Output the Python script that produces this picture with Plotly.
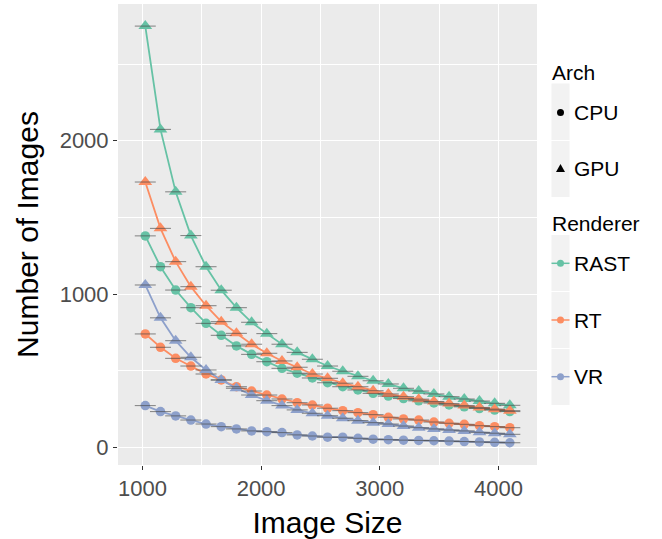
import plotly.graph_objects as go

# ---------------- data ----------------
sizes = [1024, 1152, 1280, 1408, 1536, 1664, 1792, 1920, 2048, 2176, 2304, 2432, 2560,
         2688, 2816, 2944, 3072, 3200, 3328, 3456, 3584, 3712, 3840, 3968, 4096]

gpu_rast = [2747, 2074, 1667, 1382, 1179, 1026, 912, 817, 743, 674, 621, 576, 532,
            498, 465, 436, 415, 387, 369, 350, 332, 317, 304, 289, 276]
cpu_rast = [1380, 1179, 1027, 912, 810, 732, 663, 608, 560, 517, 485, 454, 423,
            397, 376, 354, 336, 320, 305, 291, 278, 266, 255, 245, 235]
gpu_rt = [1731, 1429, 1212, 1049, 925, 821, 745, 674, 615, 565, 524, 480, 452,
          420, 397, 371, 350, 332, 316, 301, 287, 274, 262, 251, 241]
cpu_rt = [741, 654, 582, 532, 480, 441, 397, 369, 343, 317, 293, 278, 257,
          241, 228, 215, 198, 187, 180, 167, 159, 152, 143, 137, 130]
gpu_vr = [1060, 846, 697, 589, 506, 441, 387, 343, 306, 274, 246, 224, 208,
          192, 176, 163, 154, 141, 130, 122, 115, 109, 100, 94, 87]
cpu_vr = [274, 235, 207, 180, 154, 137, 122, 109, 104, 98, 83, 76, 68,
          68, 61, 55, 52, 49, 47, 45, 43, 40, 37, 35, 32]

renderers = ["RAST", "RT", "VR"]
archs = ["CPU", "GPU"]
colors = {"RAST": "#66C2A5", "RT": "#FC8D62", "VR": "#8DA0CB"}
series = {
    ("RAST", "CPU"): cpu_rast, ("RAST", "GPU"): gpu_rast,
    ("RT", "CPU"): cpu_rt, ("RT", "GPU"): gpu_rt,
    ("VR", "CPU"): cpu_vr, ("VR", "GPU"): gpu_vr,
}
symbols = {"CPU": "circle", "GPU": "triangle-up"}
msize = {"CPU": 9.5, "GPU": 12}

FONT = "Liberation Sans, Arial, sans-serif"

fig = go.Figure()
for r in renderers:
    for a in archs:
        fig.add_trace(go.Scatter(
            x=sizes, y=series[(r, a)], mode="lines+markers",
            line=dict(color=colors[r], width=1.8),
            marker=dict(symbol=symbols[a], size=msize[a], color=colors[r]),
            showlegend=False, hoverinfo="x+y", name=f"{r} {a}"))
# error bar crossbars on top
for r in renderers:
    for a in archs:
        fig.add_trace(go.Scatter(
            x=sizes, y=series[(r, a)], mode="markers",
            marker=dict(symbol="line-ew", size=15,
                        line=dict(color="rgba(70,70,70,0.65)", width=1)),
            showlegend=False, hoverinfo="skip"))

# ---------------- layout ----------------
L, R, T, B = 118, 125, 4, 74
W, H = 662, 539
PW, PH = W - L - R, H - T - B


def px(x):
    return (x - L) / PW


def py(y):
    return (H - B - y) / PH


shapes = []
annotations = []
KEY_X0, KEY_X1 = 551.5, 569.5
KEY_CX = 560.5

# key backgrounds
for (y0, y1) in [(83.5, 140), (141, 197), (235, 291), (292, 348), (349, 405)]:
    shapes.append(dict(type="rect", xref="paper", yref="paper",
                       x0=px(KEY_X0), x1=px(KEY_X1), y0=py(y1), y1=py(y0),
                       fillcolor="#F2F2F2", line=dict(width=0), layer="below"))

# Arch keys
shapes.append(dict(type="circle", xref="paper", yref="paper",
                   xsizemode="pixel", ysizemode="pixel",
                   xanchor=px(KEY_CX), yanchor=py(112.5),
                   x0=-3.5, x1=3.5, y0=-3.5, y1=3.5,
                   fillcolor="black", line=dict(width=0)))
shapes.append(dict(type="path", xref="paper", yref="paper",
                   xsizemode="pixel", ysizemode="pixel",
                   xanchor=px(KEY_CX), yanchor=py(168.5),
                   path="M -4.5 -3.5 L 4.5 -3.5 L 0 4.5 Z",
                   fillcolor="black", line=dict(width=0)))

# Renderer keys
for r, yc in zip(renderers, [263.3, 320.0, 376.7]):
    shapes.append(dict(type="line", xref="paper", yref="paper",
                       x0=px(KEY_X0), x1=px(KEY_X1), y0=py(yc), y1=py(yc),
                       line=dict(color=colors[r], width=1.5)))
    shapes.append(dict(type="circle", xref="paper", yref="paper",
                       xsizemode="pixel", ysizemode="pixel",
                       xanchor=px(KEY_CX), yanchor=py(yc),
                       x0=-3.5, x1=3.5, y0=-3.5, y1=3.5,
                       fillcolor=colors[r], line=dict(width=0)))
    annotations.append(dict(text=r, xref="paper", yref="paper",
                            x=px(572), y=py(yc), xanchor="left", yanchor="middle",
                            showarrow=False, font=dict(size=21, color="black", family=FONT)))

for lab, yc in zip(archs, [112.7, 168.3]):
    annotations.append(dict(text=lab, xref="paper", yref="paper",
                            x=px(572), y=py(yc), xanchor="left", yanchor="middle",
                            showarrow=False, font=dict(size=21, color="black", family=FONT)))

for title, yc in [("Arch", 72.7), ("Renderer", 223.3)]:
    annotations.append(dict(text=title, xref="paper", yref="paper",
                            x=px(550), y=py(yc), xanchor="left", yanchor="middle",
                            showarrow=False, font=dict(size=21, color="black", family=FONT)))

fig.update_layout(
    width=W, height=H,
    margin=dict(l=L, r=R, t=T, b=B, autoexpand=False),
    paper_bgcolor="white", plot_bgcolor="#EBEBEB",
    font=dict(family=FONT),
    showlegend=False,
    shapes=shapes, annotations=annotations,
    xaxis=dict(
        range=[794, 4325], tickvals=[1000, 2000, 3000, 4000],
        showgrid=True, gridcolor="white", gridwidth=1.4,
        minor=dict(tickvals=[1500, 2500, 3500], showgrid=True, gridcolor="white", gridwidth=0.6),
        zeroline=False, showline=False,
        ticks="outside", ticklen=4, tickcolor="#333333", tickwidth=1,
        tickfont=dict(size=22, color="#4D4D4D", family=FONT),
        title=dict(text="Image Size", font=dict(size=30, color="black", family=FONT), standoff=14),
        automargin=False,
    ),
    yaxis=dict(
        range=[-113, 2891], tickvals=[0, 1000, 2000],
        showgrid=True, gridcolor="white", gridwidth=1.4,
        minor=dict(tickvals=[500, 1500, 2500], showgrid=True, gridcolor="white", gridwidth=0.6),
        zeroline=False, showline=False,
        ticks="outside", ticklen=4, tickcolor="#333333", tickwidth=1,
        tickfont=dict(size=22, color="#4D4D4D", family=FONT),
        title=dict(text="Number of Images", font=dict(size=30, color="black", family=FONT), standoff=12),
        automargin=False,
    ),
)

fig.write_html("out.html", config={"displayModeBar": False},
               post_script="document.body.style.margin='0';document.body.style.overflow='hidden';")
